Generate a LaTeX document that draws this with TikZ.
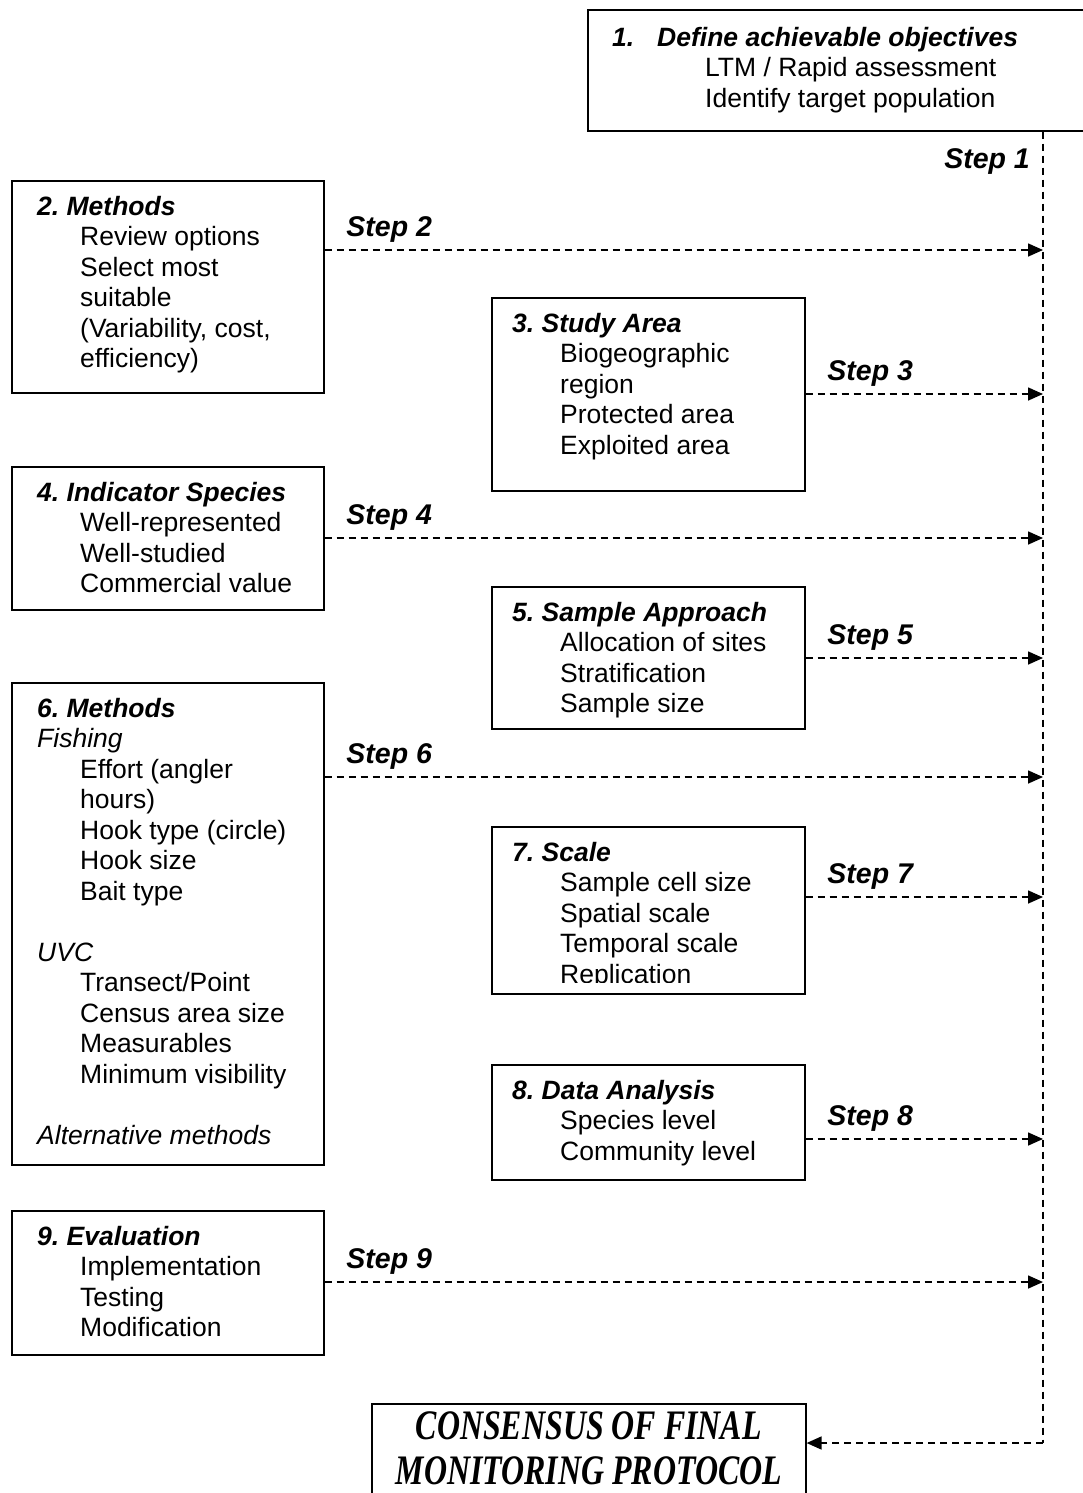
\documentclass[tikz,border=0pt]{standalone}
\usepackage{fontspec}
\setmainfont{Liberation Sans}
\newfontfamily\protofont[FakeStretch=0.76]{Liberation Serif}
\usetikzlibrary{arrows.meta}
\frenchspacing
\newcommand{\hd}[1]{\textbf{\textit{#1}}}
\newcommand{\ind}[1][43pt]{\hspace*{#1}}

\begin{document}
\begin{tikzpicture}[x=1pt,y=-1pt,
  box/.style={draw,line width=1.6pt,anchor=north west,inner sep=0pt},
  txt/.style={anchor=north west,inner sep=0pt,align=left,font=\fontsize{26.5}{30.5}\selectfont},
  steplbl/.style={inner sep=0pt,font=\fontsize{28.5}{30}\selectfont\bfseries\itshape},
  dashline/.style={line width=1.6pt,dash pattern=on 7pt off 5pt},
  steparrow/.style={dashline,-{Triangle[length=15pt,width=13pt]}}]
  \useasboundingbox (0,0) rectangle (1083,1493);
  \clip (0,0) rectangle (1083,1493);

  % boxes
  \node[box,minimum width=600,minimum height=121] (b1) at (587,9) {};
  \node[box,minimum width=312,minimum height=212] (b2) at (11,180) {};
  \node[box,minimum width=313,minimum height=193] (b3) at (491,297) {};
  \node[box,minimum width=312,minimum height=143] (b4) at (11,466) {};
  \node[box,minimum width=313,minimum height=142] (b5) at (491,586) {};
  \node[box,minimum width=312,minimum height=482] (b6) at (11,682) {};
  \node[box,minimum width=313,minimum height=167] (b7) at (491,826) {};
  \node[box,minimum width=313,minimum height=115] (b8) at (491,1064) {};
  \node[box,minimum width=312,minimum height=144] (b9) at (11,1210) {};
  \node[box,minimum width=434,minimum height=130] (bF) at (371,1403) {};

  % box texts
  \node[txt] (t1) at (612,27) {\makebox[45pt][l]{\hd{1.}}\hd{Define achievable objectives}\\
    \ind[93pt]LTM / Rapid assessment\\
    \ind[93pt]Identify target population};
  \node[txt] (t2) at (37,196) {\hd{2. Methods}\\ \ind Review options\\ \ind Select most\\
    \ind suitable\\ \ind (Variability, cost,\\ \ind efficiency)};
  \node[txt] (t3) at (512,313) {\hd{3. Study Area}\\ \ind[48pt]Biogeographic\\ \ind[48pt]region\\
    \ind[48pt]Protected area\\ \ind[48pt]Exploited area};
  \node[txt] (t4) at (37,482) {\hd{4. Indicator Species}\\ \ind Well-represented\\
    \ind Well-studied\\ \ind Commercial value};
  \node[txt] (t5) at (512,602) {\hd{5. Sample Approach}\\ \ind[48pt]Allocation of sites\\
    \ind[48pt]Stratification\\ \ind[48pt]Sample size};
  \node[txt] (t6) at (37,698) {\hd{6. Methods}\\ \textit{Fishing}\\ \ind Effort (angler\\ \ind hours)\\
    \ind Hook type (circle)\\ \ind Hook size\\ \ind Bait type\\[30.5pt]
    \textit{UVC}\\ \ind Transect/Point\\ \ind Census area size\\ \ind Measurables\\
    \ind Minimum visibility\\[30.5pt]
    \textit{Alternative methods}};
  \begin{scope}
    \clip (492,827) rectangle (803,982);
    \node[txt] (t7) at (512,842) {\hd{7. Scale}\\ \ind[48pt]Sample cell size\\
      \ind[48pt]Spatial scale\\ \ind[48pt]Temporal scale\\ \ind[48pt]Replication};
  \end{scope}
  \node[txt] (t8) at (512,1080) {\hd{8. Data Analysis}\\ \ind[48pt]Species level\\
    \ind[48pt]Community level};
  \node[txt] (t9) at (37,1226) {\hd{9. Evaluation}\\ \ind Implementation\\ \ind Testing\\
    \ind Modification};
  \node[anchor=north,inner sep=0pt,align=center,
    font=\protofont\fontsize{42}{45}\selectfont\bfseries\itshape] (tF)
    at ([yshift=-8pt]bF.north) {CONSENSUS OF FINAL\\MONITORING PROTOCOL};

  % spine and steps
  \coordinate (s1) at (1043,168);
  \coordinate (s2) at (1043,250);
  \coordinate (s3) at (1043,394);
  \coordinate (s4) at (1043,538);
  \coordinate (s5) at (1043,658);
  \coordinate (s6) at (1043,777);
  \coordinate (s7) at (1043,897);
  \coordinate (s8) at (1043,1139);
  \coordinate (s9) at (1043,1282);
  \coordinate (sEnd) at (1043,1443);
  \draw[dashline] (b1.south -| sEnd) -- (sEnd);
  \node[steplbl,anchor=base east] (l1) at ([xshift=-13pt]s1) {Step 1};
  \foreach \b/\s/\n in {b2/s2/2,b3/s3/3,b4/s4/4,b5/s5/5,b6/s6/6,b7/s7/7,b8/s8/8,b9/s9/9}
    \draw[steparrow] (\b.east |- \s) -- node[steplbl,at start,anchor=south west,xshift=21pt,yshift=7pt] {Step \n} (\s);
  \draw[steparrow] (sEnd) -- (bF.east |- sEnd);
\end{tikzpicture}
\end{document}
